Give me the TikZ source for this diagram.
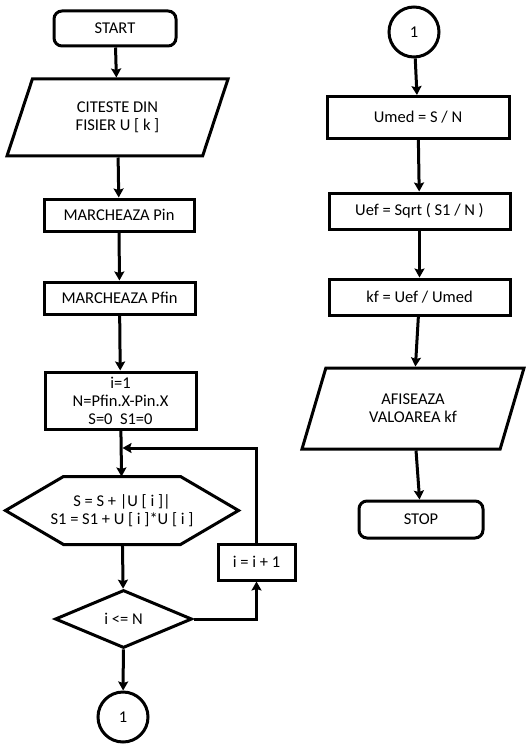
\documentclass[tikz,border=0pt]{standalone}
\usepackage{fontspec}
\setmainfont{Carlito}
\usetikzlibrary{shapes.geometric,arrows.meta}
\tikzset{
	box/.style={draw,line width=3pt,inner sep=2pt,align=center},
	term/.style={box,rounded corners=8pt},
	io/.style={box,trapezium,trapezium left angle=54,trapezium right angle=126,trapezium stretches body},
	decide/.style={box,diamond,aspect=2.3},
	conn/.style={box,circle,minimum size=50pt,inner sep=0pt},
	flow/.style={line width=3pt,-{Stealth[length=9pt,width=10pt,inset=1.5pt]}}
}
\begin{document}
	\begin{tikzpicture}[x=1pt,y=-1pt,font=\fontsize{16.5pt}{18pt}\selectfont]
		\useasboundingbox (0,0) rectangle (525,746);
		\path (115,28.5) node[term,minimum width=122pt,minimum height=35pt](start){START};
		\path (117.5,117.5) node[io,minimum width=221pt,minimum height=77pt](read){CITESTE DIN\\FISIER U [ k ]};
		\foreach \n/\x/\y/\w/\h/\texn in {pin/119/215/150/32/MARCHEAZA Pin,
			pfin/119.5/298/151/32/MARCHEAZA Pfin,
			init/120.5/400.5/151/57/{i=1\\N=Pfin.X-Pin.X\\S=0\ \ S1=0},
			incr/256.5/562/77/36/{i = i + 1},
			umed/418/117.5/182/42/{Umed = S / N},
			uef/419.5/211/181/36/{Uef = Sqrt ( S1 / N )},
			kf/419.5/297/181/36/{kf = Uef / Umed}}
		\path (\x,\y) node[box,minimum width=\w pt,minimum height=\h pt](\n){\texn};
		\path (122,510.5) node[align=center,minimum width=230pt,minimum height=65pt,line width=3pt](hex){S = S + |U [ i ]|\\S1 = S1 + U [ i ]*U [ i ]};
		\draw[line width=3pt] ([xshift=58pt]hex.north west)--([xshift=-58pt]hex.north east)--(hex.east)
			--([xshift=-58pt]hex.south east)--([xshift=58pt]hex.south west)--(hex.west)--cycle;
		\path (123.5,619) node[decide,minimum width=137pt,minimum height=58pt](test){i <= N};
		\path (123,717) node[conn](outA){1};
		\path (414,32) node[conn](inA){1};
		\path (413,408.5) node[io,minimum width=222pt,minimum height=81pt](show){AFISEAZA\\VALOAREA kf};
		\path (421,519.5) node[term,minimum width=124pt,minimum height=37pt](stop){STOP};
		\coordinate (join) at (122.5,448);
		\draw[flow] (start)--(read);
		\draw[flow] (read)--(pin);
		\draw[flow] (pin)--(pfin);
		\draw[flow] (pfin)--(init);
		\draw[flow] (init)--(hex);
		\draw[flow] (hex)--(test);
		\draw[flow] (test)--(outA);
		\draw[flow] (test)-|(incr);
		\draw[flow] (incr)|-(join);
		\draw[flow] (inA)--(umed);
		\draw[flow] (umed)--(uef);
		\draw[flow] (uef)--(kf);
		\draw[flow] (kf)--(show);
		\draw[flow] (show)--(stop);
	\end{tikzpicture}
\end{document}
